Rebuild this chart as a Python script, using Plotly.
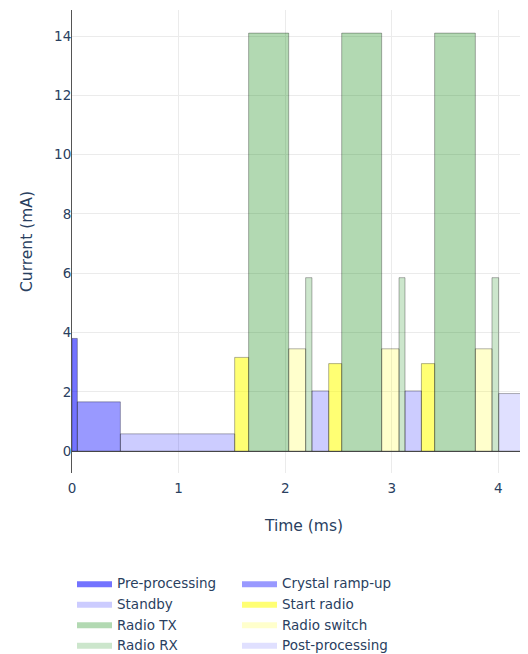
import plotly.graph_objects as go

# Phase of each segment, in time order
segment_phase = ["Pre-processing", "Crystal ramp-up", "Standby", "Start radio", "Radio TX",
                 "Radio switch", "Radio RX", "Standby", "Start radio", "Radio TX",
                 "Radio switch", "Radio RX", "Standby", "Start radio", "Radio TX",
                 "Radio switch", "Radio RX", "Post-processing"]
# Segment start times (ms)
segment_start = [0.0, 0.05, 0.454, 1.526, 1.657, 2.033, 2.192, 2.251, 2.408, 2.530,
                 2.905, 3.068, 3.124, 3.278, 3.402, 3.784, 3.940, 4.003]
# Segment end times (ms)
segment_end = [0.05, 0.454, 1.526, 1.657, 2.033, 2.192, 2.251, 2.408, 2.530, 2.905,
               3.068, 3.124, 3.278, 3.402, 3.784, 3.940, 4.003, 4.60]
# Segment current (mA)
segment_current = [3.8, 1.66, 0.58, 3.16, 14.1, 3.45, 5.85, 2.03, 2.95, 14.1,
                   3.45, 5.85, 2.03, 2.95, 14.1, 3.45, 5.85, 1.94]

phases = ["Pre-processing", "Crystal ramp-up", "Standby", "Start radio",
          "Radio TX", "Radio switch", "Radio RX", "Post-processing"]
phase_colors = {
    "Pre-processing": "rgba(0,0,255,0.55)",
    "Crystal ramp-up": "rgba(0,0,255,0.4)",
    "Standby": "rgba(0,0,255,0.2)",
    "Start radio": "rgba(255,255,0,0.55)",
    "Radio TX": "rgba(0,128,0,0.3)",
    "Radio switch": "rgba(255,255,0,0.2)",
    "Radio RX": "rgba(0,128,0,0.2)",
    "Post-processing": "rgba(0,0,255,0.12)",
}

fig = go.Figure()

def rect_path(idx):
    xs, ys = [], []
    for i in idx:
        xs += [segment_start[i], segment_start[i], segment_end[i], segment_end[i], segment_start[i], None]
        ys += [0, segment_current[i], segment_current[i], 0, 0, None]
    return xs, ys

for ph in phases:
    idx = [i for i, p in enumerate(segment_phase) if p == ph]
    xs, ys = rect_path(idx)
    fig.add_trace(go.Scatter(
        x=xs, y=ys, name=ph, mode="lines", fill="toself",
        fillcolor=phase_colors[ph], line=dict(width=0, color=phase_colors[ph]),
        hoverinfo="skip", legendgroup=ph,
    ))

for ph in phases:
    idx = [i for i, p in enumerate(segment_phase) if p == ph]
    xs, ys = rect_path(idx)
    fig.add_trace(go.Scatter(
        x=xs, y=ys, mode="lines", showlegend=False, legendgroup=ph,
        line=dict(width=1, color="rgba(0,0,0,0.3)"), hoverinfo="skip",
    ))

font_color = "#2a3f5f"
fig.update_layout(
    width=528, height=654,
    margin=dict(l=64, r=0, t=2, b=189, autoexpand=False),
    paper_bgcolor="white", plot_bgcolor="white",
    font=dict(family="DejaVu Sans, Verdana, sans-serif", size=13.5, color=font_color),
    legend=dict(orientation="h", x=0, xanchor="left", y=-0.205, yanchor="top",
                entrywidth=115, entrywidthmode="pixels", itemwidth=35,
                font=dict(size=13.5), tracegroupgap=0),
    xaxis=dict(range=[0, 4.353], dtick=1, tick0=0, showgrid=True, gridcolor="#ebebeb",
               zeroline=False, showline=False, ticks="", ticklabelstandoff=5,
               automargin=False,
               title=dict(text="Time (ms)", font=dict(size=15.5), standoff=25)),
    yaxis=dict(range=[-0.74, 14.88], dtick=2, tick0=0, showgrid=True, gridcolor="#ebebeb",
               zeroline=True, zerolinecolor="#555", zerolinewidth=1,
               showline=True, linecolor="#555", linewidth=1, ticks="", ticklabelstandoff=-3,
               automargin=False,
               title=dict(text="Current (mA)", font=dict(size=15.5), standoff=17)),
)

fig.write_html("out.html")
